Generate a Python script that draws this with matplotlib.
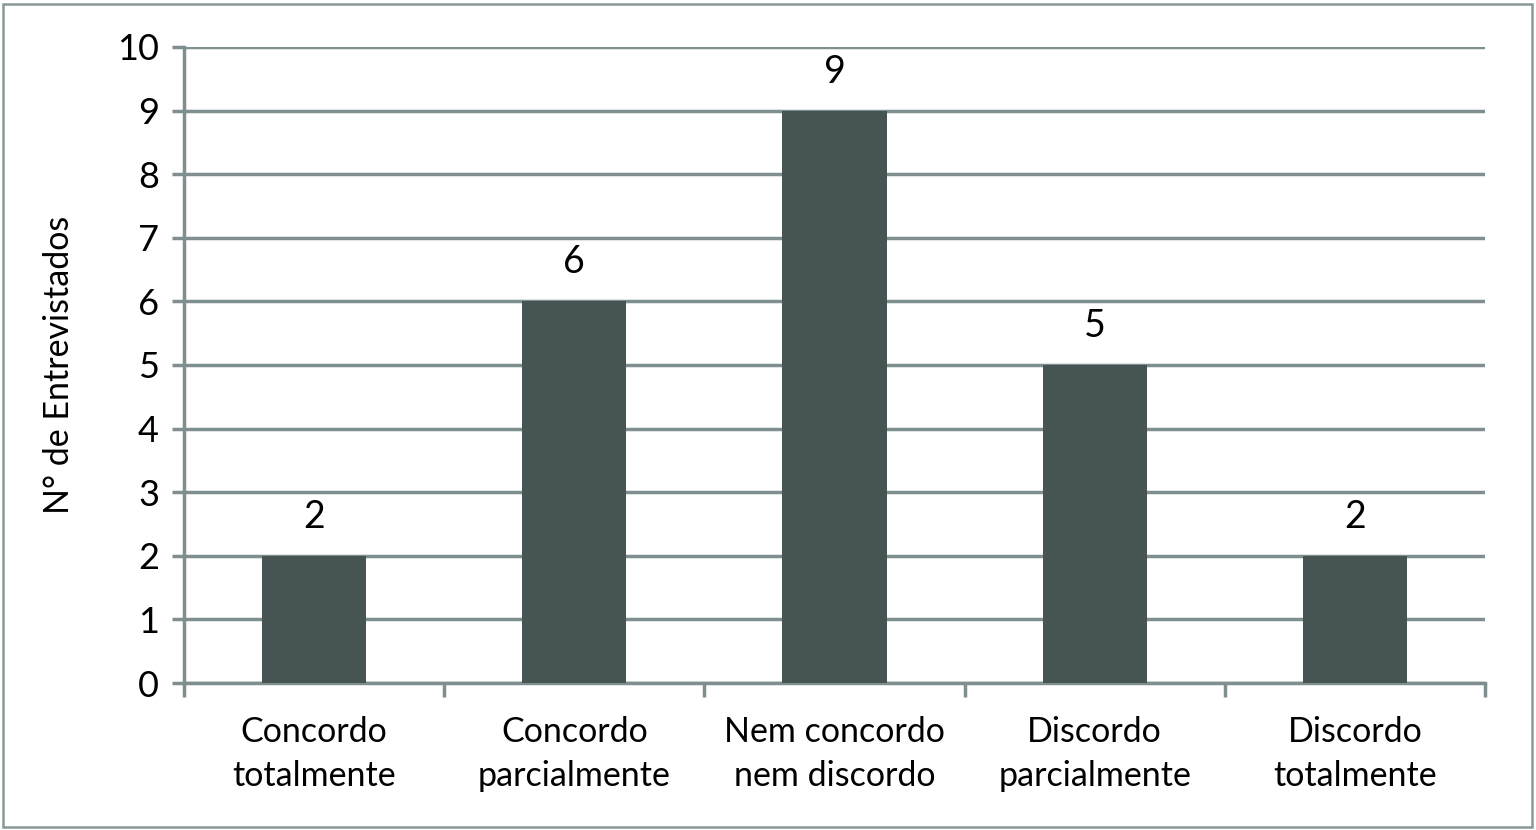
import numpy as np
import matplotlib
matplotlib.use('Agg')
import matplotlib.pyplot as plt
from matplotlib.patches import Rectangle

categories = ['Concordo\ntotalmente', 'Concordo\nparcialmente', 'Nem concordo\nnem discordo',
              'Discordo\nparcialmente', 'Discordo\ntotalmente']
counts = [2, 6, 9, 5, 2]

plt.rcParams['font.family'] = ['Lato', 'DejaVu Sans']
grid_color = '#7f8f8f'
bar_color = '#475454'

fig = plt.figure(figsize=(15.36, 8.3), dpi=100)
ax = fig.add_axes([184 / 1536, 1 - 683 / 830, (1485 - 184) / 1536, (683 - 47) / 830])

x = np.arange(len(categories))
ax.bar(x, counts, width=0.4, color=bar_color, zorder=3)
for xi, v in zip(x, counts):
    ax.text(xi, v + 0.33, str(v), ha='center', va='bottom', fontsize=27)

ax.set_xlim(-0.5, len(categories) - 0.5)
ax.set_ylim(0, 10)
ax.set_yticks(range(0, 11))
ax.tick_params(axis='y', labelsize=26, length=9, width=2.5, color=grid_color, pad=9)
ax.yaxis.grid(True, color=grid_color, linewidth=2.5, zorder=0)

# category labels centred, ticks on the boundaries
ax.set_xticks(x)
ax.set_xticklabels(categories, fontsize=24.5, linespacing=1.45)
ax.tick_params(axis='x', length=0, pad=24)
ax.set_xticks(np.arange(-0.5, len(categories)), minor=True)
ax.tick_params(axis='x', which='minor', length=10, width=2.5, color=grid_color)

for side in ['top', 'right']:
    ax.spines[side].set_visible(False)
for side in ['left', 'bottom']:
    ax.spines[side].set_color(grid_color)
    ax.spines[side].set_linewidth(2.5)

ax.set_ylabel('N° de Entrevistados', fontsize=24.5, labelpad=30)

# outer frame of the chart
fig.patches.append(Rectangle((3 / 1536, 3 / 830), 1 - 7 / 1536, 1 - 7 / 830,
                             transform=fig.transFigure, fill=False,
                             edgecolor='#8a9898', linewidth=1.8))

plt.savefig('out.png', dpi=100)
plt.close(fig)
